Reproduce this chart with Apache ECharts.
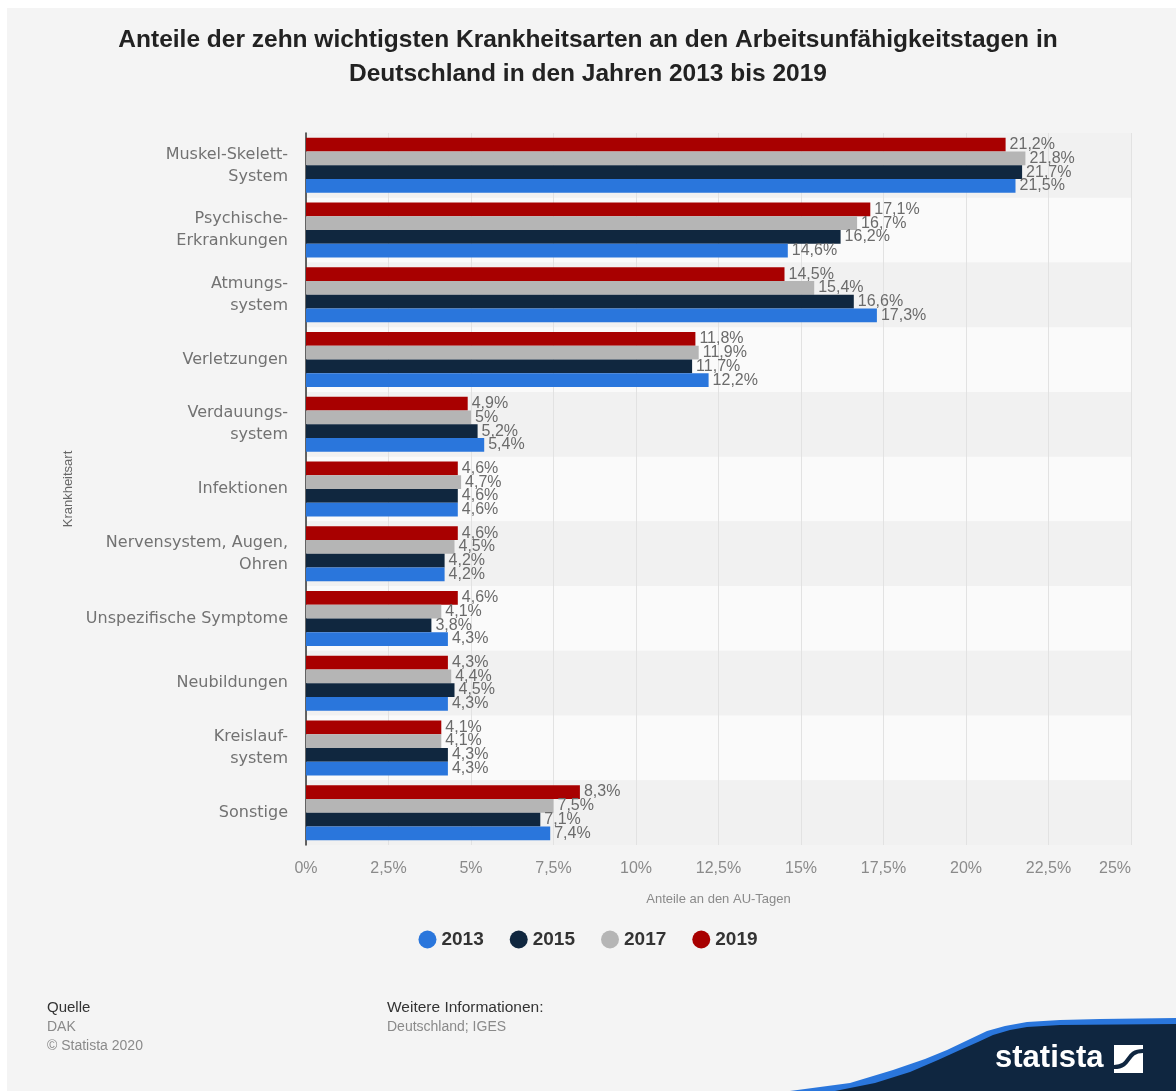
<!DOCTYPE html>
<html>
<head>
<meta charset="utf-8">
<script src="https://cdn.jsdelivr.net/npm/echarts@6/dist/echarts.min.js"></script>
<style>
html,body{margin:0;padding:0;background:#ffffff;}
#chart{width:1176px;height:1091px;}
</style>
</head>
<body>
<div id="chart"></div>
<script>
const categories = ['Muskel-Skelett-\nSystem','Psychische-\nErkrankungen','Atmungs-\nsystem','Verletzungen','Verdauungs-\nsystem','Infektionen','Nervensystem, Augen,\nOhren','Unspezifische Symptome','Neubildungen','Kreislauf-\nsystem','Sonstige'];
const years = ['2013','2015','2017','2019'];
const values2013 = [21.5,14.6,17.3,12.2,5.4,4.6,4.2,4.3,4.3,4.3,7.4];
const values2015 = [21.7,16.2,16.6,11.7,5.2,4.6,4.2,3.8,4.5,4.3,7.1];
const values2017 = [21.8,16.7,15.4,11.9,5.0,4.7,4.5,4.1,4.4,4.1,7.5];
const values2019 = [21.2,17.1,14.5,11.8,4.9,4.6,4.6,4.6,4.3,4.1,8.3];
const xTicks = [0,2.5,5,7.5,10,12.5,15,17.5,20,22.5,25];
const colors = ['#2a76dc','#10273f','#b5b5b5','#a80000'];
const seriesValues = [values2013, values2015, values2017, values2019];

const fmt = v => String(v).replace('.', ',') + '%';

const chart = echarts.init(document.getElementById('chart'), null, {renderer:'canvas'});
// draw order top-to-bottom inside a group: 2019, 2017, 2015, 2013
const order = [3,2,1,0];
const series = order.map(i=>({
  name: years[i],
  type: 'bar',
  data: seriesValues[i],
  barGap: '0%',
  barCategoryGap: '15%',
  itemStyle: {color: colors[i]},
  label: {
    show: true, position: 'right', distance: 4,
    formatter: p => fmt(p.value),
    color: '#6b6b6b', fontFamily: 'Liberation Sans', fontSize: 16
  }
}));

const option = {
  backgroundColor: '#ffffff',
  animation: false,
  title: {
    text: 'Anteile der zehn wichtigsten Krankheitsarten an den Arbeitsunfähigkeitstagen in\nDeutschland in den Jahren 2013 bis 2019',
    left: 'center', top: 18,
    textStyle: {fontFamily:'Liberation Sans', fontWeight:'bold', fontSize:24.5, color:'#222', lineHeight:34}
  },
  grid: {left: 306, right: 45, top: 133, bottom: 246, containLabel: false},
  xAxis: {
    type: 'value', min: 0, max: 25, interval: 2.5,
    name: 'Anteile an den AU-Tagen', nameLocation: 'middle', nameGap: 48,
    nameTextStyle: {fontFamily:'Liberation Sans', fontSize:13, color:'#8a8a8a'},
    axisLine: {show:false}, axisTick: {show:false},
    axisLabel: {margin: 16, color:'#8a8a8a', fontFamily:'Liberation Sans', fontSize:16,
      alignMaxLabel: 'right',
      formatter: v => xTicks.indexOf(v) >= 0 ? fmt(v) : ''},
    splitLine: {show:true, lineStyle:{color:'#e2e2e2', width:1}}
  },
  yAxis: {
    type: 'category', data: categories, inverse: true,
    name: 'Krankheitsart', nameLocation: 'middle', nameGap: 229, nameRotate: 90,
    nameTextStyle: {fontFamily:'Liberation Sans', fontSize:13, color:'#666'},
    axisLine: {show:true, lineStyle:{color:'#333', width:1.5}},
    axisTick: {show:false},
    axisLabel: {margin: 18, color:'#727272', fontFamily:'DejaVu Sans', fontSize:16, lineHeight:22, align:'right'},
    splitArea: {show:true, areaStyle:{color:['#f1f1f1','#fafafa']}}
  },
  legend: {
    data: years, top: 925, left: 'center', icon: 'circle', itemWidth: 18, itemHeight: 18, itemGap: 26,
    textStyle: {fontFamily:'Liberation Sans', fontWeight:'bold', fontSize:19, color:'#333'}
  },
  series: series,
  graphic: [
    {type:'rect', z:-10, shape:{x:7,y:8,width:1169,height:1083}, style:{fill:'#f4f4f4'}},
    {type:'text', left:47, top:1000, style:{text:'Quelle', fontFamily:'Liberation Sans', fontSize:15, fill:'#333'}},
    {type:'text', left:47, top:1020, style:{text:'DAK', fontFamily:'Liberation Sans', fontSize:14, fill:'#8a8a8a'}},
    {type:'text', left:47, top:1039, style:{text:'© Statista 2020', fontFamily:'Liberation Sans', fontSize:14, fill:'#8a8a8a'}},
    {type:'text', left:387, top:1000, style:{text:'Weitere Informationen:', fontFamily:'Liberation Sans', fontSize:15.5, fill:'#333'}},
    {type:'text', left:387, top:1020, style:{text:'Deutschland; IGES', fontFamily:'Liberation Sans', fontSize:14, fill:'#8a8a8a'}},
    {type:'polygon', shape:{points:[[790,1091],[850,1083],[893,1070],[925,1059],[947,1050],[968,1040],[987,1031],[1005,1026],[1027,1022],[1060,1020],[1100,1019],[1176,1018],[1176,1091]]}, style:{fill:'#2a76dc'}},
    {type:'polygon', shape:{points:[[835,1091],[875,1083],[910,1072],[938,1060],[960,1050],[978,1042],[993,1035],[1010,1030],[1027,1027],[1060,1025],[1176,1024],[1176,1091]]}, style:{fill:'#0f2640'}},
    {type:'text', left:995, top:1043, style:{text:'statista', fontFamily:'Liberation Sans', fontWeight:'bold', fontSize:31, fill:'#ffffff'}},
    {type:'rect', shape:{x:1114,y:1045,width:29,height:28}, style:{fill:'#ffffff'}},
    {type:'bezierCurve', shape:{x1:1114,y1:1067,cpx1:1132,cpy1:1067,cpx2:1125,cpy2:1051,x2:1143,y2:1051}, style:{stroke:'#0f2640', lineWidth:4, fill:null}}
  ]
};
chart.setOption(option);
</script>
</body>
</html>
